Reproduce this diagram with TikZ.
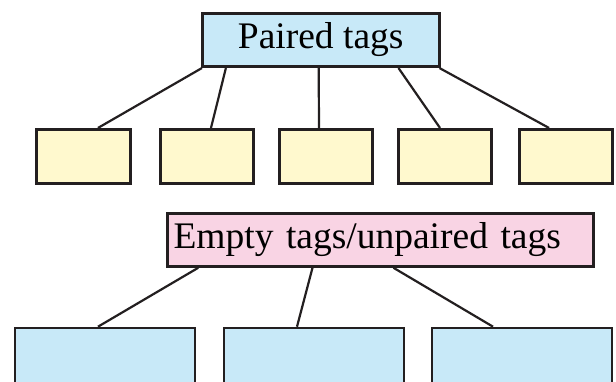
\documentclass[tikz,border=0pt]{standalone}
\usepackage{fontspec}
\setmainfont{Liberation Serif}
\usepackage{tikz}
\usetikzlibrary{positioning}
\definecolor{tagline}{RGB}{35,31,32}
\definecolor{tagblue}{RGB}{200,233,248}
\definecolor{tagyellow}{RGB}{255,249,206}
\definecolor{tagpink}{RGB}{249,212,228}
\tikzstyle{tagbox} = [rectangle, draw=tagline, line width=2.6pt, inner sep=0pt, font=\fontsize{37.5}{40}\selectfont]
\tikzstyle{leaf} = [tagbox, minimum width=93.5pt, minimum height=54.5pt, fill=tagyellow]
\tikzstyle{wideleaf} = [tagbox, minimum width=180pt, minimum height=100pt, fill=tagblue]
\tikzstyle{link} = [line width=2.2pt, draw=tagline]

\begin{document}
\begin{tikzpicture}[x=1pt, y=-1pt]
\useasboundingbox (0,0) rectangle (616,382);
\clip (0,0) rectangle (616,382);

% Paired tags
\node[tagbox, fill=tagblue, minimum width=237pt, minimum height=53.5pt] (paired) at (320.7,40) {Paired tags};
\node[leaf] (p1) at (83.5,156.5) {};
\node[leaf] (p2) at (207,156.5) {};
\node[leaf] (p3) at (326,156.5) {};
\node[leaf] (p4) at (445,156.5) {};
\node[leaf] (p5) at (566,156.5) {};

\draw[link] ([xshift=1pt]paired.south west) -- ([xshift=14.5pt]p1.north);
\draw[link] ([xshift=25pt]paired.south west) -- ([xshift=4pt]p2.north);
\draw[link] ([xshift=-2pt]paired.south) -- ([xshift=-7pt]p3.north);
\draw[link] ([xshift=-42pt]paired.south east) -- ([xshift=-5pt]p4.north);
\draw[link] ([xshift=-1pt]paired.south east) -- ([xshift=-17pt]p5.north);

% Empty tags
\node[tagbox, fill=tagpink, minimum width=426pt, minimum height=53pt, text width=414pt, align=left] (empty) at (380.5,240) {Empty tags/unpaired tags};
\node[wideleaf] (e1) at (105,378) {};
\node[wideleaf] (e2) at (314,378) {};
\node[wideleaf] (e3) at (522,378) {};

\draw[link] ([xshift=32pt]empty.south west) -- ([xshift=-7pt]e1.north);
\draw[link] ([xshift=-68pt]empty.south) -- ([xshift=-17pt]e2.north);
\draw[link] ([xshift=13pt]empty.south) -- ([xshift=-29pt]e3.north);
\end{tikzpicture}
\end{document}
